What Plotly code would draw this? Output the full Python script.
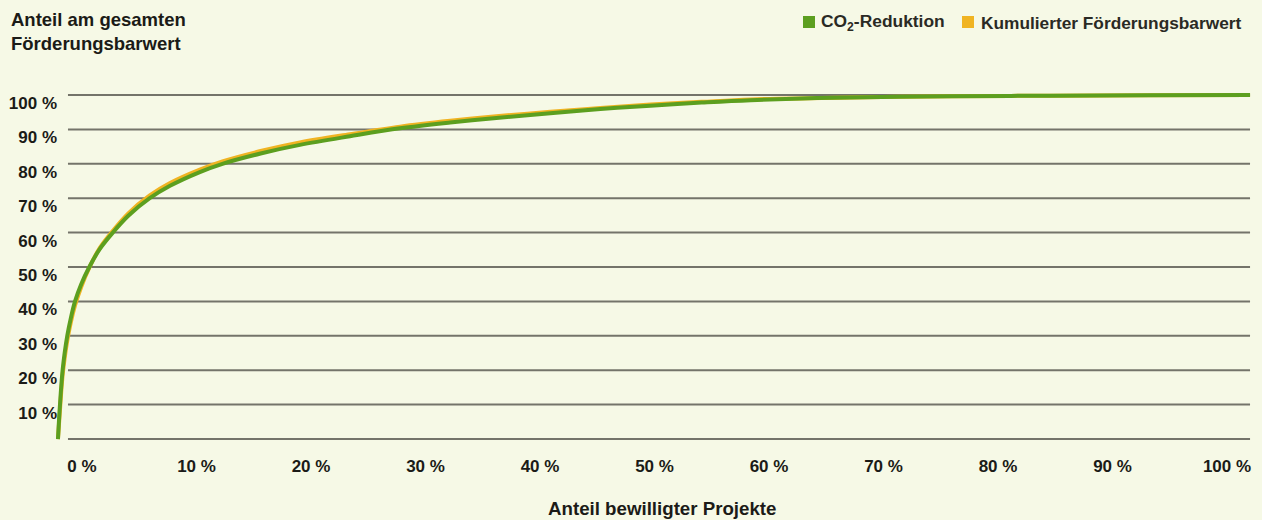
import plotly.graph_objects as go

# Share of approved projects (x, %) and the cumulative shares (y, %)
share_projects = [0, 0.08, 0.17, 0.27, 0.39, 0.56, 0.78, 1.07, 1.43, 1.95, 2.63,
                  3.5, 4.6, 5.9, 7.7, 9.4, 11.9, 13.8, 17.0, 20.3, 24.5, 28.7,
                  32.9, 37.0, 41.3, 45.5, 49.7, 54.0, 58.1, 66.4, 75.0, 83.2, 91.5, 100]
co2_reduction = [0, 5, 10, 15, 20, 25, 30, 35, 40, 45, 50,
                 55.2, 60, 64.9, 70, 73.6, 77.6, 80, 83.0, 85.5, 88.0, 90.3,
                 92.0, 93.4, 94.7, 95.9, 96.9, 97.8, 98.5, 99.3, 99.6, 99.8, 99.9, 100]
funding_value = [0, 4, 8.5, 13.5, 18.5, 23.5, 28.6, 33.8, 38.8, 44.2, 49.8,
                 55.5, 60.5, 65.6, 70.8, 74.4, 78.3, 80.7, 83.7, 86.2, 88.6, 90.8,
                 92.5, 93.9, 95.1, 96.2, 97.2, 98.0, 98.7, 99.3, 99.6, 99.8, 99.9, 100]

x_tick_values = [0, 10, 20, 30, 40, 50, 60, 70, 80, 90, 100]
x_tick_labels = ["0 %", "10 %", "20 %", "30 %", "40 %", "50 %", "60 %", "70 %", "80 %", "90 %", "100 %"]
y_tick_values = [10, 20, 30, 40, 50, 60, 70, 80, 90, 100]
y_tick_labels = ["10 %", "20 %", "30 %", "40 %", "50 %", "60 %", "70 %", "80 %", "90 %", "100 %"]
grid_values = [0, 10, 20, 30, 40, 50, 60, 70, 80, 90, 100]

series_names = ["CO<sub>2</sub>-Reduktion", "Kumulierter Förderungsbarwert"]
GREEN = "#5c9f1f"
ORANGE = "#f0b422"
TEXT = "#1b1b17"
BG = "#f6f9e6"
GRID = "#74746a"
FONT = "Liberation Sans, Arial, sans-serif"

W, H = 1262, 520
M_L, M_R, M_T, M_B = 52, 6, 88, 74
PW, PH = W - M_L - M_R, H - M_T - M_B


def px_x(p):
    return (p - M_L) / PW


def px_y(p):
    return (H - M_B - p) / PH


fig = go.Figure()

fig.add_trace(go.Scatter(
    x=share_projects, y=funding_value, mode="lines",
    line=dict(color=ORANGE, width=4, shape="spline", smoothing=1.0),
    name=series_names[1], showlegend=False, hoverinfo="skip"))
fig.add_trace(go.Scatter(
    x=share_projects, y=co2_reduction, mode="lines",
    line=dict(color=GREEN, width=4, shape="spline", smoothing=1.0),
    name=series_names[0], showlegend=False, hoverinfo="skip"))
# the label axis for the x ticks needs a (empty) trace to be drawn
fig.add_trace(go.Scatter(x=[], y=[], xaxis="x2", yaxis="y",
                         showlegend=False, hoverinfo="skip"))

# horizontal grid lines, starting a little right of the y-axis origin
for g in grid_values:
    fig.add_shape(type="line", xref="x", yref="y", x0=0.84, x1=100, y0=g, y1=g,
                  line=dict(color=GRID, width=2), layer="below")

annotations = [
    dict(text="<b>Anteil am gesamten<br>Förderungsbarwert</b>", x=px_x(9), y=px_y(7),
         xanchor="left", yanchor="top", align="left", font=dict(size=18.5, color=TEXT)),
    dict(text="<b>Anteil bewilligter Projekte</b>", x=px_x(662), y=px_y(508),
         xanchor="center", yanchor="middle", font=dict(size=18.7, color=TEXT)),
    dict(text="<b>" + series_names[0] + "</b>", x=px_x(819), y=px_y(23),
         xanchor="left", yanchor="middle", font=dict(size=17.4, color="#2a2a24")),
    dict(text="<b>" + series_names[1] + "</b>", x=px_x(979), y=px_y(23),
         xanchor="left", yanchor="middle", font=dict(size=17.3, color="#2a2a24")),
]
for a in annotations:
    a.update(xref="paper", yref="paper", showarrow=False)

# legend swatches
for left, col in [(803, GREEN), (962, ORANGE)]:
    fig.add_shape(type="rect", xref="paper", yref="paper",
                  x0=px_x(left), x1=px_x(left + 12), y0=px_y(16), y1=px_y(28),
                  line=dict(width=0), fillcolor=col)

fig.update_layout(
    width=W, height=H,
    margin=dict(l=M_L, r=M_R, t=M_T, b=M_B),
    paper_bgcolor=BG, plot_bgcolor=BG,
    font=dict(family=FONT, color=TEXT),
    showlegend=False,
    annotations=annotations,
    xaxis=dict(range=[-0.5, 100.5], showticklabels=False, showgrid=False,
               zeroline=False, showline=False, ticks=""),
    xaxis2=dict(overlaying="x", anchor="y", side="bottom",
                range=[(M_L - 82) / 11.45, (W - M_R - 82) / 11.45],
                tickvals=x_tick_values, ticktext=x_tick_labels,
                tickfont=dict(size=17, color=TEXT, family=FONT, weight="bold"),
                showgrid=False, zeroline=False, showline=False, ticks="",
                ticklabelstandoff=8),
    yaxis=dict(range=[-2.03, 102.03], tickvals=y_tick_values, ticktext=y_tick_labels,
               tickfont=dict(size=17, color=TEXT, family=FONT, weight="bold"),
               showgrid=False, zeroline=False, showline=False, ticks="",
               ticklabelshift=8, ticklabelstandoff=-6),
)

fig.write_html("out.html")
